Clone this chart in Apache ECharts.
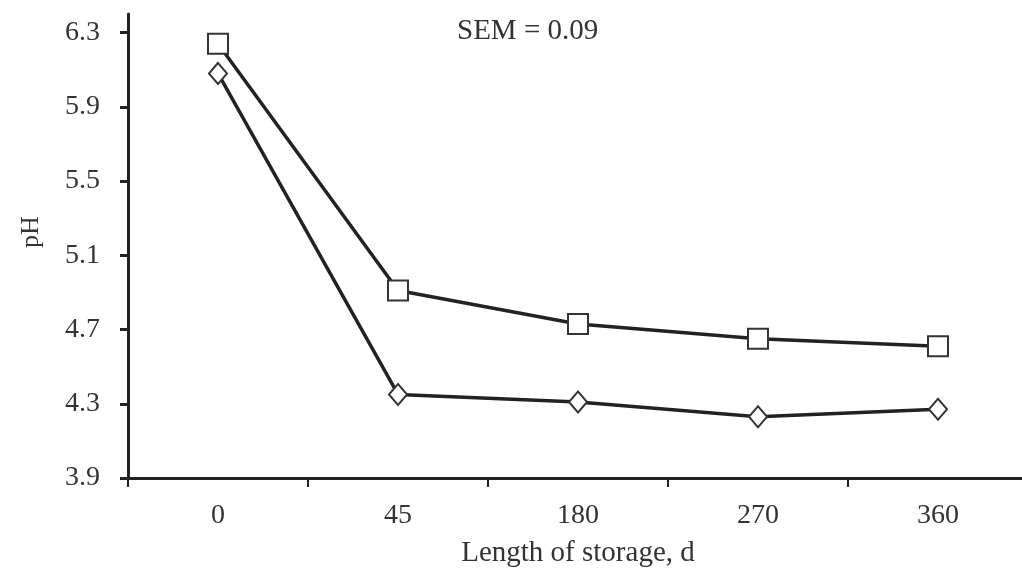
<!DOCTYPE html>
<html>
<head>
<meta charset="utf-8">
<script src="https://cdn.jsdelivr.net/npm/echarts@6/dist/echarts.min.js"></script>
<style>
  html, body { margin: 0; padding: 0; background: #fff; }
  #main { width: 1022px; height: 569px; }
</style>
</head>
<body>
<div id="main"></div>
<script>
// storage length (days) on x
var days = ['0', '45', '180', '270', '360'];
// pH, square markers
var phSquare = [6.24, 4.91, 4.73, 4.65, 4.61];
// pH, diamond markers
var phDiamond = [6.08, 4.35, 4.31, 4.23, 4.27];
// y tick labels
var yTicks = [3.9, 4.3, 4.7, 5.1, 5.5, 5.9, 6.3];

var font = '"Liberation Serif", "DejaVu Serif", serif';
var ink = '#222';

var chart = echarts.init(document.getElementById('main'));

var option = {
  animation: false,
  backgroundColor: '#fff',
  title: {
    text: 'SEM = 0.09',
    left: 452,
    top: 12,
    textStyle: { fontFamily: font, fontSize: 29, fontWeight: 'normal', color: '#333' }
  },
  // x axis runs past the right edge, like the source figure
  grid: { left: 128, width: 900, top: 14, bottom: 91, containLabel: false, outerBoundsMode: 'none' },
  xAxis: {
    type: 'category',
    data: days,
    boundaryGap: true,
    name: 'Length of storage, d',
    nameLocation: 'middle',
    nameGap: 61,
    nameTextStyle: { fontFamily: font, fontSize: 29, color: '#333' },
    axisLine: { lineStyle: { color: ink, width: 3 } },
    axisTick: { show: true, length: 9, lineStyle: { color: ink, width: 2 } },
    axisLabel: { fontFamily: font, fontSize: 28, color: '#333', margin: 24 }
  },
  yAxis: {
    type: 'value',
    min: 3.9,
    max: 6.4,
    name: 'pH',
    nameLocation: 'middle',
    nameGap: 84,
    nameTextStyle: { fontFamily: font, fontSize: 26, color: '#333', padding: [0, 0, 0, 28] },
    splitLine: { show: false },
    axisLine: { show: true, lineStyle: { color: ink, width: 3 } },
    axisTick: { show: true, length: 8, customValues: yTicks, lineStyle: { color: ink, width: 3 } },
    axisLabel: {
      customValues: yTicks,
      fontFamily: font, fontSize: 28, color: '#333', margin: 28,
      formatter: function (v) { return v.toFixed(1); }
    }
  },
  series: [
    {
      name: 'square',
      type: 'line',
      data: phSquare,
      symbol: 'rect',
      symbolSize: 20,
      lineStyle: { color: ink, width: 3.5 },
      itemStyle: { color: '#fff', borderColor: '#333', borderWidth: 2 },
      z: 3
    },
    {
      name: 'diamond',
      type: 'line',
      data: phDiamond,
      symbol: 'diamond',
      symbolSize: [18, 21],
      lineStyle: { color: ink, width: 3.5 },
      itemStyle: { color: '#fff', borderColor: '#333', borderWidth: 2 },
      z: 3
    }
  ]
};

chart.setOption(option);
</script>
</body>
</html>
